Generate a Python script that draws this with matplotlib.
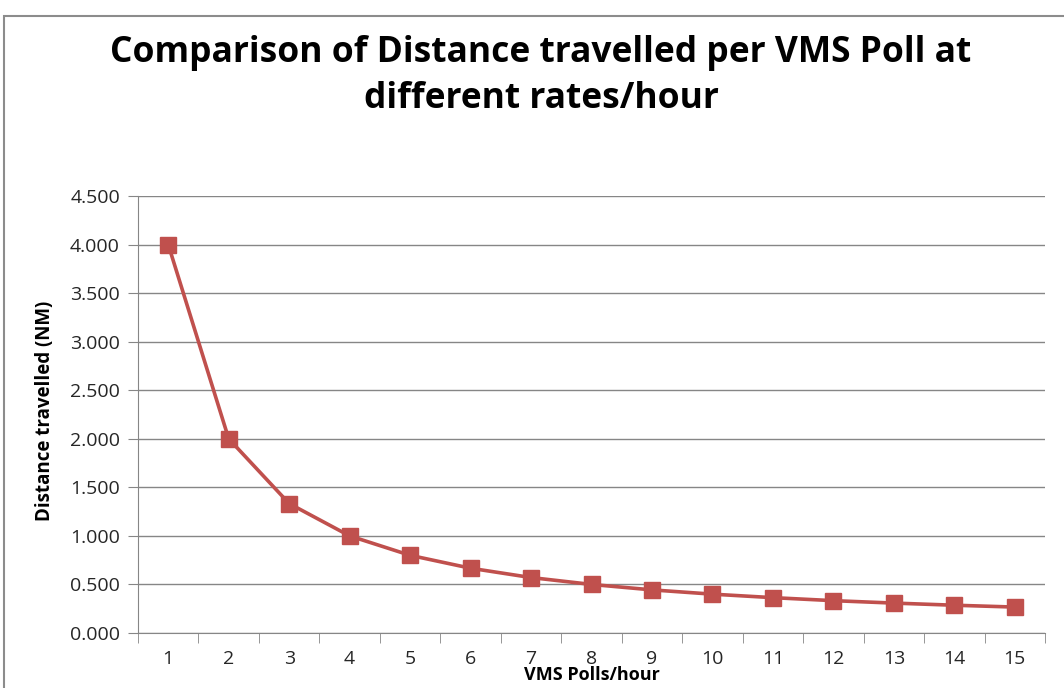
import matplotlib
matplotlib.use("Agg")
import matplotlib.pyplot as plt
from matplotlib import font_manager
from matplotlib.patches import Rectangle

polls = [1, 2, 3, 4, 5, 6, 7, 8, 9, 10, 11, 12, 13, 14, 15]
distance = [4.000, 2.000, 1.333, 1.000, 0.800, 0.667, 0.571, 0.500,
            0.444, 0.400, 0.364, 0.333, 0.308, 0.286, 0.267]
yticks = [0.0, 0.5, 1.0, 1.5, 2.0, 2.5, 3.0, 3.5, 4.0, 4.5]

names = {f.name for f in font_manager.fontManager.ttflist}
fam = ["Liberation Sans Narrow"] if "Liberation Sans Narrow" in names else ["Open Sans"]
fam = fam + ["DejaVu Sans"]
plt.rcParams["font.family"] = fam

fig = plt.figure(figsize=(10.64, 6.88), dpi=100)
fig.patches.append(Rectangle((4 / 1064, -0.1), 1.2, (680 - 8) / 688 + 0.1,
                             transform=fig.transFigure, fill=False,
                             edgecolor="#8c8c8c", linewidth=1.5))
ax = fig.add_axes([138 / 1064, 55 / 688, (1045 - 138) / 1064, (633 - 196) / 688])

ax.plot(polls, distance, color="#C0504D", linewidth=2.6, marker="s",
        markersize=12, markerfacecolor="#C0504D", markeredgecolor="#C0504D",
        zorder=3)

ax.set_xlim(0.5, 15.5)
ax.set_ylim(0, 4.5)
ax.set_yticks(yticks)
ax.set_yticklabels([f"{v:.3f}" for v in yticks])
ax.set_xticks(polls)
ax.set_xticks([p + 0.5 for p in [0] + polls], minor=True)
ax.tick_params(axis="x", which="major", length=0, pad=12)
ax.tick_params(axis="x", which="minor", length=7, color="#868686")
ax.tick_params(axis="y", length=7, color="#868686", pad=6)
ax.tick_params(labelsize=14, labelcolor="#262626")
ax.grid(axis="y", color="#868686", linewidth=1)
ax.set_axisbelow(True)
for s in ("top", "right"):
    ax.spines[s].set_visible(False)
for s in ("left", "bottom"):
    ax.spines[s].set_color("#868686")

fig.text(541 / 1064, 1 - 76 / 688,
         "Comparison of Distance travelled per VMS Poll at\ndifferent rates/hour",
         ha="center", va="center", fontsize=25.5, fontweight="bold",
         linespacing=1.35)
fig.text(45 / 1064, 1 - 411 / 688, "Distance travelled (NM)", rotation=90,
         ha="center", va="center", fontsize=13.5, fontweight="bold")
fig.text(592 / 1064, 1 - 675 / 688, "VMS Polls/hour", ha="center",
         va="center", fontsize=13, fontweight="bold")

fig.savefig("out.png", dpi=100)
